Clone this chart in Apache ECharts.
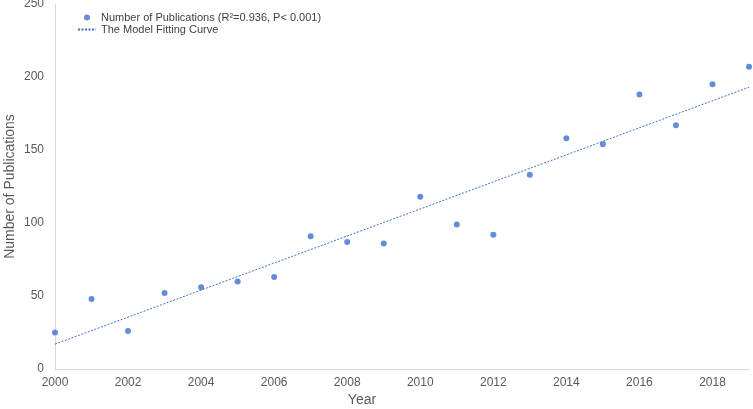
<!DOCTYPE html>
<html><head><meta charset="utf-8">
<script src="https://cdn.jsdelivr.net/npm/echarts@6/dist/echarts.min.js"></script>
<style>html,body{margin:0;padding:0;background:#fff}#c{width:753px;height:409px}</style>
</head><body><div id="c"></div>
<script>
const years = [2000,2001,2002,2003,2004,2005,2006,2007,2008,2009,2010,2011,2012,2013,2014,2015,2016,2017,2018,2019];
const publications = [25,48,26,52,56,60,63,91,87,86,118,99,92,133,158,154,188,167,195,207];
const fitYears = [2000, 2019];
const fitValues = [17, 193];
const seriesNames = ['Number of Publications (R\u00B2=0.936, P< 0.001)', 'The Model Fitting Curve'];

const blue = '#3F6FCF';
const chart = echarts.init(document.getElementById('c'));
chart.setOption({
  animation: false,
  textStyle: {fontFamily: 'Liberation Sans, Arial, sans-serif'},
  grid: {left: 55, right: 4, top: 4, bottom: 40, containLabel: false, outerBoundsMode: 'none'},
  legend: {
    orient: 'vertical', left: 72, top: 7, itemGap: 1,
    itemWidth: 18, itemHeight: 6,
    textStyle: {fontSize: 11, color: '#404040'},
    data: [
      {name: seriesNames[0], icon: 'circle'},
      {name: seriesNames[1], itemStyle: {color: 'rgba(0,0,0,0)', borderWidth: 0}}
    ]
  },
  xAxis: {
    type: 'value', min: 2000, max: 2019, interval: 2,
    name: 'Year', nameLocation: 'middle', nameGap: 24, nameMoveOverlap: false,
    nameTextStyle: {fontSize: 14, color: '#595959', padding: [0, 80, 0, 0]},
    axisLine: {show: true, lineStyle: {color: '#d9d9d9'}},
    axisTick: {show: false},
    splitLine: {show: false},
    axisLabel: {color: '#595959', fontSize: 12, margin: 8, showMaxLabel: false, formatter: v => String(v)}
  },
  yAxis: {
    type: 'value', min: 0, max: 250, interval: 50,
    name: 'Number of Publications', nameLocation: 'middle', nameGap: 38, nameMoveOverlap: false,
    nameTextStyle: {fontSize: 14, color: '#595959'},
    axisLine: {show: true, lineStyle: {color: '#d9d9d9'}},
    axisTick: {show: false},
    splitLine: {show: false},
    axisLabel: {color: '#595959', fontSize: 12, margin: 11}
  },
  series: [
    {
      name: seriesNames[0], type: 'scatter', symbolSize: 6,
      itemStyle: {color: blue},
      data: years.map((y, i) => [y, publications[i]])
    },
    {
      name: seriesNames[1], type: 'line', symbol: 'none',
      lineStyle: {color: blue, width: 1, type: [2, 1.5]},
      itemStyle: {color: blue},
      data: fitYears.map((y, i) => [y, fitValues[i]])
    }
  ]
});
</script></body></html>
